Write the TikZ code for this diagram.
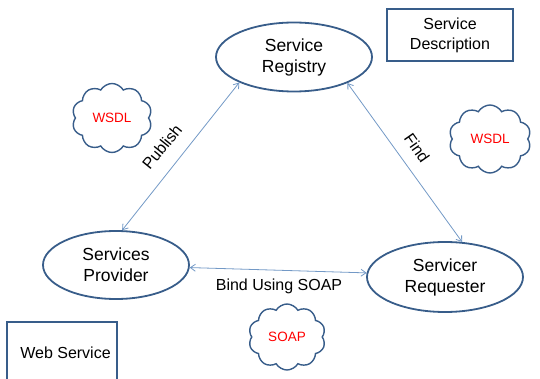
\documentclass[tikz,border=0pt]{standalone}
\usepackage{fontspec}
\setmainfont{Liberation Sans}
\usetikzlibrary{shapes.geometric,shapes.symbols,arrows.meta}
\definecolor{ellblue}{HTML}{385D8A}
\definecolor{arrblue}{HTML}{7399C6}
\definecolor{wsdlred}{HTML}{FF0000}
\tikzset{
  svc/.style={ellipse, draw=ellblue, line width=1.8pt, inner sep=0pt, align=center,
    font=\fontsize{17.5}{21}\selectfont},
  infobox/.style={rectangle, draw=ellblue, line width=1.3pt, inner sep=0pt, align=center,
    font=\fontsize{16}{20}\selectfont},
  puff/.style={cloud, cloud puffs=10, cloud puff arc=120, aspect=1.2, draw=ellblue,
    line width=1.4pt, inner sep=0pt, text=wsdlred, font=\fontsize{13.5}{16}\selectfont},
  link/.style={draw=arrblue, line width=0.8pt, {Straight Barb[length=5pt,width=7pt]}-{Straight Barb[length=5pt,width=7pt]}},
  lbl/.style={font=\fontsize{16}{19}\selectfont, inner sep=1pt}
}
\begin{document}
\begin{tikzpicture}[x=1pt,y=-1pt]
\useasboundingbox (0,0) rectangle (540,379);
\node[svc, minimum width=156pt, minimum height=69pt] (reg) at (294,57) {Service\\Registry};
\node[svc, minimum width=146pt, minimum height=68pt] (prov) at (116,265) {Services\\Provider};
\node[svc, minimum width=156pt, minimum height=70pt] (req) at (445,277) {Servicer\\Requester};
\node[infobox, minimum width=126pt, minimum height=52pt] (desc) at (450,35) {Service\\Description};
\node[infobox, minimum width=110pt, minimum height=62pt] (web) at (62,353) {\hspace{7pt}Web Service};
\node[puff, minimum width=80pt, minimum height=69pt] (w1) at (112,118) {WSDL};
\node[puff, minimum width=82pt, minimum height=68pt] (w2) at (490,139) {WSDL};
\node[puff, minimum width=77pt, minimum height=66pt] (soap) at (287,337) {SOAP};
\draw[link] (prov.80) -- (reg.205);
\draw[link] (reg.334) -- (req.64);
\draw[link] (prov.-2) -- (req.177);
\node[lbl, rotate=51] (pub) at (162,147) {Publish};
\node[lbl, rotate=-55] (find) at (417,148) {Find};
\node[lbl] (bind) at (279,286) {Bind Using SOAP};
\end{tikzpicture}
\end{document}
